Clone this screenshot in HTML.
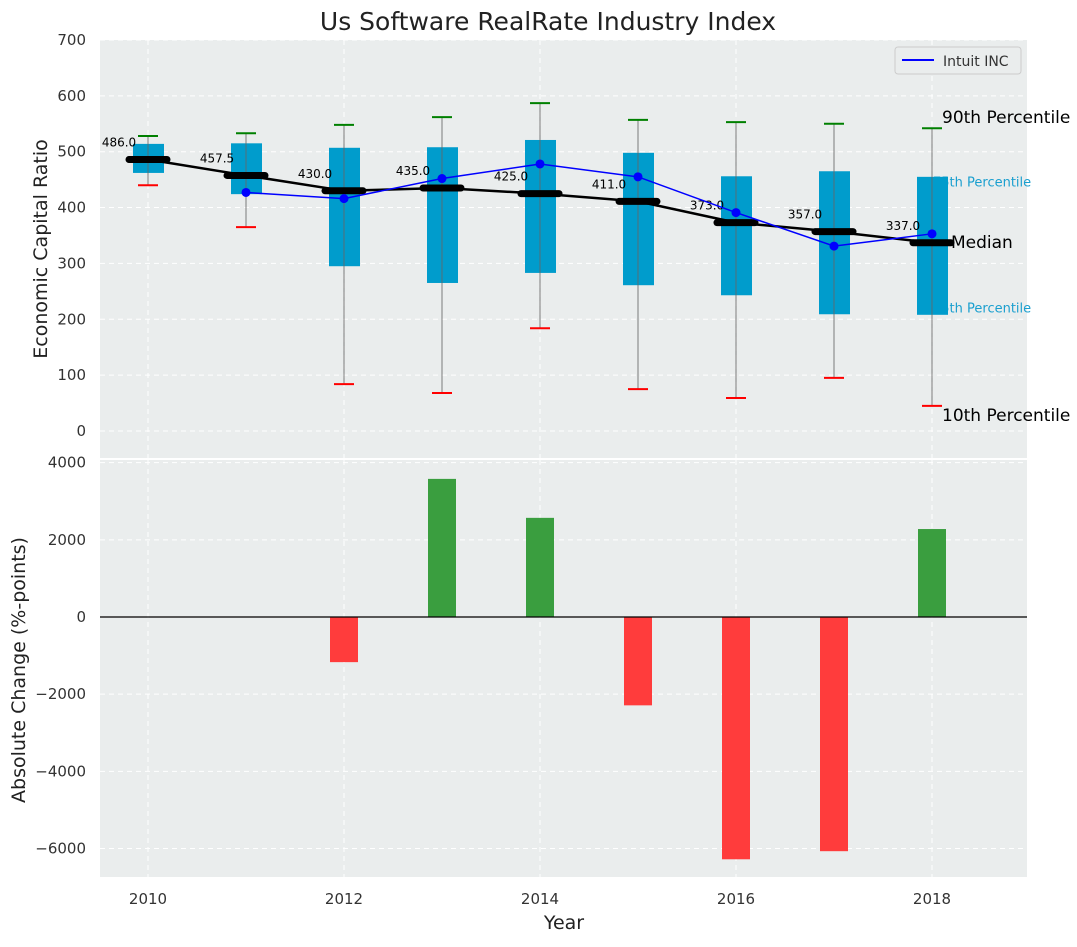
<!DOCTYPE html>
<html><head><meta charset="utf-8"><style>
body{margin:0;background:#fff;font-family:"Liberation Sans","DejaVu Sans",sans-serif}
svg text{font-family:"DejaVu Sans","Liberation Sans",sans-serif}
</style></head><body>
<svg id="chart" width="1077" height="942" xmlns="http://www.w3.org/2000/svg">
<text x="548" y="30" font-size="25" text-anchor="middle" fill="#222">Us Software RealRate Industry Index</text>
<rect x="100" y="40" width="927" height="418" fill="#eaeded"/>
<rect x="100" y="460" width="927" height="417" fill="#eaeded"/>
<g id="gtop"></g><g id="gbot"></g>
<text transform="translate(47,249) rotate(-90)" font-size="19" text-anchor="middle" fill="#222">Economic Capital Ratio</text>
<text transform="translate(25,670) rotate(-90)" font-size="19" text-anchor="middle" fill="#222">Absolute Change (%-points)</text>
<text x="564" y="929" font-size="19" text-anchor="middle" fill="#222">Year</text>
<g>
<rect x="895" y="47" width="126" height="27" fill="#eaeded" stroke="#ccc" rx="3"/>
<line x1="902" y1="60" x2="934" y2="60" stroke="blue" stroke-width="2"/>
<text x="943" y="66" font-size="14" fill="#333">Intuit INC</text>
</g>
</svg>
<script>
const years=[2010,2011,2012,2013,2014,2015,2016,2017,2018];
const p10=[440,365,84,68,184,75,59,95,45];
const q1=[462,424,295,265,283,261,243,209,208];
const med=[486,457.5,430,435,425,411,373,357,337];
const q3=[514,515,507,508,521,498,456,465,455];
const p90=[528,533,548,562,587,557,553,550,542];
const intuit=[null,427,416,452,478,455,391,331,353];
const changes=[0,0,-1170,3580,2570,-2290,-6280,-6070,2280];
const topTicks=[0,100,200,300,400,500,600,700];
const botTicks=[-6000,-4000,-2000,0,2000,4000];
const xTicks=[2010,2012,2014,2016,2018];
const NS="http://www.w3.org/2000/svg";
const X=v=>148+(v-2010)*98;
const Y1=v=>431-v*0.5586;
const Y2=v=>617-v*0.03858;
function mk(p,t,a){const e=document.createElementNS(NS,t);for(const k in a)e.setAttribute(k,a[k]);p.appendChild(e);return e;}
const gTop=document.getElementById('gtop'),gBot=document.getElementById('gbot');
topTicks.forEach(t=>{const l=mk(gTop,'line',{x1:100,x2:1027,y1:Y1(t),y2:Y1(t),stroke:'#fff','stroke-dasharray':'5,4'});

const tx=mk(gTop,'text',{x:86,y:Y1(t)+5,'font-size':15,'text-anchor':'end',fill:'#333'});tx.textContent=t;
});
botTicks.forEach(t=>{const l=mk(gBot,'line',{x1:100,x2:1027,y1:Y2(t),y2:Y2(t),stroke:'#fff','stroke-dasharray':'5,4'});

const tx=mk(gBot,'text',{x:86,y:Y2(t)+5,'font-size':15,'text-anchor':'end',fill:'#333'});tx.textContent=t<0?'\u2212'+(-t):t;
});
xTicks.forEach(t=>{[[40,458],[460,877]].forEach(r=>{const l=mk(gTop,'line',{x1:X(t),x2:X(t),y1:r[0],y2:r[1],stroke:'#fff','stroke-dasharray':'5,4'});
});
const tx=mk(gBot,'text',{x:X(t),y:904,'font-size':15,'text-anchor':'middle',fill:'#333'});tx.textContent=t;
});
const last=years.length-1;
[[Y1(p90[last])-10,'90th Percentile','#000',17,942],[Y1(q3[last])+6,'75th Percentile','#1a9fcf',13,933],[Y1(med[last]),'Median','#000',17,951],[Y1(q1[last])-6,'25th Percentile','#1a9fcf',13,933],[Y1(p10[last])+10,'10th Percentile','#000',17,942]].forEach(d=>{
const tx=mk(gTop,'text',{x:d[4],y:d[0],'dominant-baseline':'central','font-size':d[3],fill:d[2]});tx.textContent=d[1];
});
years.forEach((y,i)=>{const x=X(y);
const b=mk(gTop,'rect',{x:x-15,y:Y1(q3[i]),width:31,height:Y1(q1[i])-Y1(q3[i]),fill:'#009ccc'});

const w=mk(gTop,'line',{x1:x,x2:x,y1:Y1(p90[i]),y2:Y1(p10[i]),stroke:'#666','stroke-opacity':0.7,'stroke-width':1.2});

const c1=mk(gTop,'line',{x1:x-10,x2:x+10,y1:Y1(p90[i]),y2:Y1(p90[i]),stroke:'green','stroke-width':2});

const c2=mk(gTop,'line',{x1:x-10,x2:x+10,y1:Y1(p10[i]),y2:Y1(p10[i]),stroke:'red','stroke-width':2});
});
const mp=mk(gTop,'polyline',{points:years.map((y,i)=>X(y)+','+Y1(med[i])).join(' '),fill:'none',stroke:'#000','stroke-width':2.5});

years.forEach((y,i)=>{const x=X(y);
const m=mk(gTop,'line',{x1:x-19,x2:x+19,y1:Y1(med[i]),y2:Y1(med[i]),stroke:'#000','stroke-width':7,'stroke-linecap':'round'});

const t=mk(gTop,'text',{x:x-29,y:Y1(med[i])-13,'font-size':12,'text-anchor':'middle',fill:'#000'});t.textContent=med[i].toFixed(1);
});
const pts=years.map((y,i)=>intuit[i]==null?null:X(y)+','+Y1(intuit[i])).filter(p=>p);
const il=mk(gTop,'polyline',{points:pts.join(' '),fill:'none',stroke:'blue','stroke-width':1.5});

years.forEach((y,i)=>{if(intuit[i]==null)return;const c=mk(gTop,'circle',{cx:X(y),cy:Y1(intuit[i]),r:4.5,fill:'blue'});
});
years.forEach((y,i)=>{if(!changes[i])return;const v=changes[i];
const r=mk(gBot,'rect',{x:X(y)-14,y:Math.min(Y2(0),Y2(v)),width:28,height:Math.abs(Y2(v)-Y2(0)),fill:v>0?'#3a9e3f':'#ff3c3c'});
});
const z=mk(gBot,'line',{x1:100,x2:1027,y1:Y2(0),y2:Y2(0),stroke:'#000','stroke-width':1.2});

</script>
</body></html>
